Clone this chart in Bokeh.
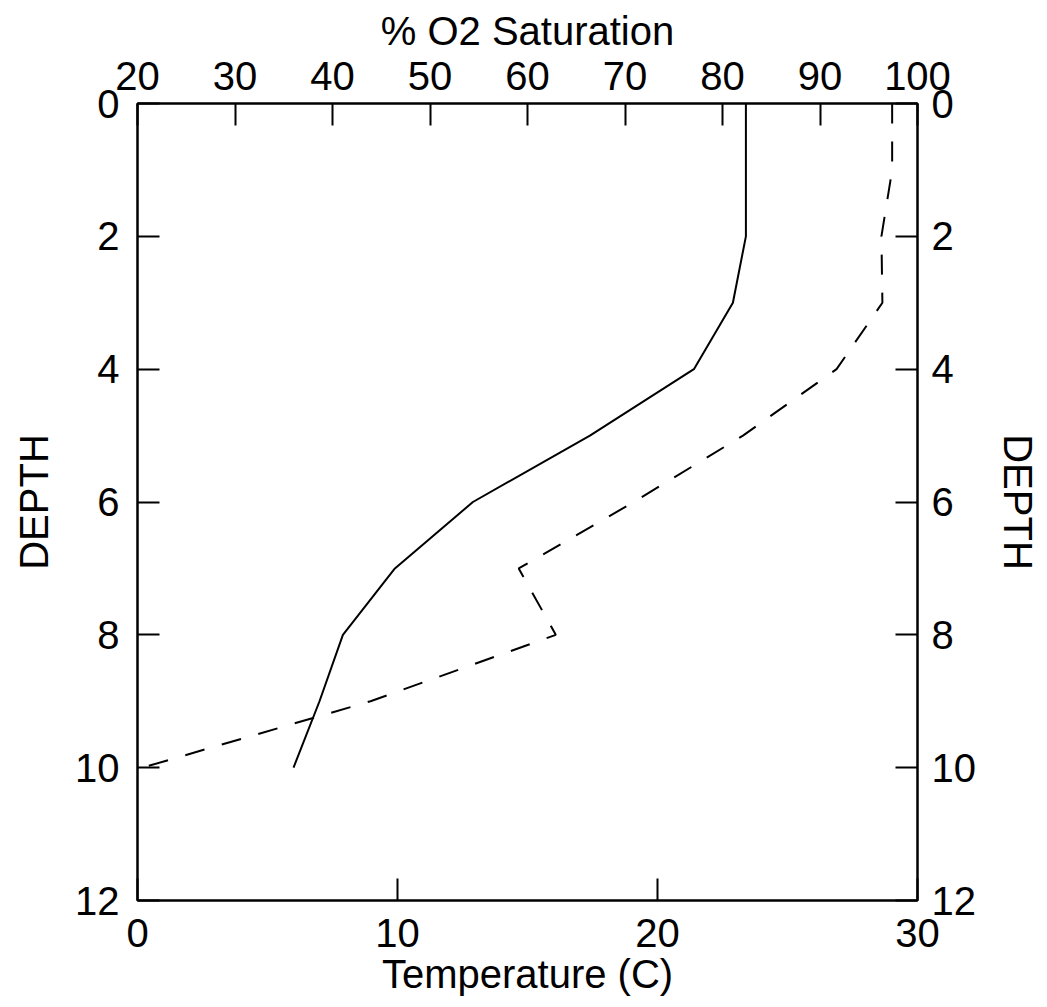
from bokeh.plotting import figure
from bokeh.models import Range1d, LinearAxis, FixedTicker
from bokeh.embed import file_html
from bokeh.resources import INLINE

# Data
depth = [0, 1, 2, 3, 4, 5, 6, 7, 8, 9, 10]
temperature = [23.4, 23.4, 23.4, 22.9, 21.4, 17.4, 12.9, 9.9, 7.9, 7.0, 6.0]
o2_saturation = [97.4, 97.4, 96.3, 96.4, 91.7, 82.1, 70.9, 59.1, 62.9, 43.9, 20.5]

depth_ticks = [0, 2, 4, 6, 8, 10, 12]
temp_ticks = [0, 10, 20, 30]
o2_ticks = [20, 30, 40, 50, 60, 70, 80, 90, 100]

FONT = "Liberation Sans"
TICK_SIZE = "40px"
LABEL_SIZE = "40px"

p = figure(output_backend="svg", toolbar_location=None,
           x_range=Range1d(0, 30), y_range=Range1d(12, 0),
           x_axis_location=None, y_axis_location=None,
           frame_width=780, frame_height=797,
           min_border_left=137, min_border_right=112,
           min_border_top=103, min_border_bottom=95)
p.extra_x_ranges = {"o2": Range1d(20, 100)}
p.xgrid.visible = False
p.ygrid.visible = False
p.background_fill_color = "white"
p.border_fill_color = "white"
p.outline_line_color = "black"
p.outline_line_width = 2

def style(ax, standoff, label_standoff):
    ax.axis_line_color = "black"
    ax.axis_line_width = 2
    ax.major_tick_line_color = "black"
    ax.major_tick_line_width = 2
    ax.major_tick_in = 22
    ax.major_tick_out = 0
    ax.minor_tick_line_color = None
    ax.major_label_text_font = FONT
    ax.major_label_text_font_size = TICK_SIZE
    ax.major_label_text_color = "black"
    ax.major_label_standoff = standoff
    ax.axis_label_text_font = FONT
    ax.axis_label_text_font_size = LABEL_SIZE
    ax.axis_label_text_font_style = "normal"
    ax.axis_label_text_color = "black"
    ax.axis_label_standoff = label_standoff

bottom = LinearAxis(axis_label="Temperature (C)", ticker=FixedTicker(ticks=temp_ticks))
style(bottom, 18, 2)
p.add_layout(bottom, "below")

top = LinearAxis(axis_label="% O2 Saturation", x_range_name="o2",
                 ticker=FixedTicker(ticks=o2_ticks))
style(top, 14, 6)
p.add_layout(top, "above")

left = LinearAxis(axis_label="DEPTH", ticker=FixedTicker(ticks=depth_ticks))
style(left, 18, 16)
p.add_layout(left, "left")

right = LinearAxis(axis_label="DEPTH", ticker=FixedTicker(ticks=depth_ticks))
style(right, 14, 17)
p.add_layout(right, "right")

p.line(temperature, depth, line_color="black", line_width=2)
p.line(o2_saturation, depth, x_range_name="o2", line_color="black",
       line_width=2, line_dash="20 18")

open("out.html", "w").write(file_html(p, INLINE))
